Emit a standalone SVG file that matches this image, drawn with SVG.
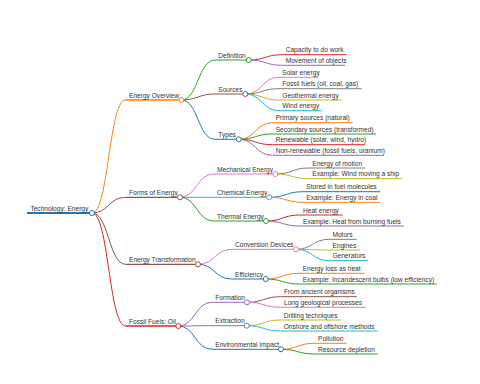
<svg xmlns="http://www.w3.org/2000/svg" width="480" height="384" viewBox="0 0 480 384">
<style>
text{font-family:"Liberation Sans",Arial,sans-serif;font-size:6.6px;fill:#333}
.l{fill:none;stroke-width:1}
.u{stroke-width:1;fill:none}
.c{fill:#fff;stroke-width:1}
.c0{stroke:#1f77b4}.c1{stroke:#ff7f0e}.c2{stroke:#2ca02c}.c3{stroke:#d62728}.c4{stroke:#9467bd}.c5{stroke:#8c564b}.c6{stroke:#e377c2}.c7{stroke:#7f7f7f}.c8{stroke:#bcbd22}.c9{stroke:#17becf}
</style>
<rect width="480" height="384" fill="#fff"/>
<g id="connectors">
<path class="l c1" d="M92 213C108.8 213 108.8 100 125.6 100"/>
<path class="l c5" d="M92 213C108.8 213 108.8 197.3 125.6 197.3"/>
<path class="l c5" d="M92 213C108.8 213 108.8 264.3 125.6 264.3"/>
<path class="l c3" d="M92 213C108.8 213 108.8 326 125.6 326"/>
<path class="l c2" d="M181.3 100C198.1 100 198.1 60 214.9 60"/>
<path class="l c5" d="M181.3 100C198.1 100 198.1 94 214.9 94"/>
<path class="l c0" d="M181.3 100C198.1 100 198.1 139.3 214.9 139.3"/>
<path class="l c6" d="M180 197.3C196.8 197.3 196.8 174 213.6 174"/>
<path class="l c9" d="M180 197.3C196.8 197.3 196.8 197.3 213.6 197.3"/>
<path class="l c2" d="M180 197.3C196.8 197.3 196.8 221 213.6 221"/>
<path class="l c6" d="M198 264.3C214.8 264.3 214.8 249.3 231.6 249.3"/>
<path class="l c0" d="M198 264.3C214.8 264.3 214.8 279 231.6 279"/>
<path class="l c4" d="M178.3 326C195.1 326 195.1 302.3 211.9 302.3"/>
<path class="l c7" d="M178.3 326C195.1 326 195.1 325.7 211.9 325.7"/>
<path class="l c0" d="M178.3 326C195.1 326 195.1 349.3 211.9 349.3"/>
<path class="l c3" d="M248.7 60C265.5 60 265.5 54.7 282.3 54.7"/>
<path class="l c4" d="M248.7 60C265.5 60 265.5 65.3 282.3 65.3"/>
<path class="l c6" d="M245.3 94C262.1 94 262.1 77.3 278.9 77.3"/>
<path class="l c7" d="M245.3 94C262.1 94 262.1 88.7 278.9 88.7"/>
<path class="l c8" d="M245.3 94C262.1 94 262.1 100 278.9 100"/>
<path class="l c9" d="M245.3 94C262.1 94 262.1 110.7 278.9 110.7"/>
<path class="l c1" d="M238.7 139.3C255.5 139.3 255.5 122.7 272.3 122.7"/>
<path class="l c2" d="M238.7 139.3C255.5 139.3 255.5 134 272.3 134"/>
<path class="l c3" d="M238.7 139.3C255.5 139.3 255.5 144.7 272.3 144.7"/>
<path class="l c4" d="M238.7 139.3C255.5 139.3 255.5 155.3 272.3 155.3"/>
<path class="l c7" d="M275.3 174C292.1 174 292.1 168 308.9 168"/>
<path class="l c8" d="M275.3 174C292.1 174 292.1 178.7 308.9 178.7"/>
<path class="l c0" d="M269.3 197.3C286.1 197.3 286.1 191.7 302.9 191.7"/>
<path class="l c1" d="M269.3 197.3C286.1 197.3 286.1 202.3 302.9 202.3"/>
<path class="l c3" d="M266 221C282.8 221 282.8 215 299.6 215"/>
<path class="l c4" d="M266 221C282.8 221 282.8 226 299.6 226"/>
<path class="l c7" d="M296 249.3C312.6 249.3 312.6 239.3 329 239.3"/>
<path class="l c8" d="M296 249.3C312.6 249.3 312.6 250 329 250"/>
<path class="l c9" d="M296 249.3C312.6 249.3 312.6 260.7 329 260.7"/>
<path class="l c1" d="M265.7 279C282.5 279 282.5 273.3 299.3 273.3"/>
<path class="l c2" d="M265.7 279C282.5 279 282.5 284 299.3 284"/>
<path class="l c5" d="M247 302.3C263.8 302.3 263.8 296.7 280.6 296.7"/>
<path class="l c6" d="M247 302.3C263.8 302.3 263.8 307.3 280.6 307.3"/>
<path class="l c8" d="M246.7 325.7C263.5 325.7 263.5 320 280.3 320"/>
<path class="l c9" d="M246.7 325.7C263.5 325.7 263.5 331 280.3 331"/>
<path class="l c1" d="M281 349.3C297.8 349.3 297.8 343.3 314.6 343.3"/>
<path class="l c2" d="M281 349.3C297.8 349.3 297.8 354 314.6 354"/>
</g>
<g id="n-root"><line class="u c0" style="stroke-width:2" x1="27" y1="213" x2="92" y2="213"/><text x="30.4" y="210.5">Technology: Energy</text><circle class="c c0" cx="92" cy="213" r="2.5"/></g>
<g id="n-overview"><line class="u c1" style="stroke-width:1.3" x1="125.6" y1="100" x2="181.3" y2="100"/><text x="129" y="97.5">Energy Overview</text><circle class="c c1" cx="181.3" cy="100" r="2.5"/></g>
<g id="n-forms"><line class="u c5" style="stroke-width:1.3" x1="125.6" y1="197.3" x2="180" y2="197.3"/><text x="129" y="194.8">Forms of Energy</text><circle class="c c5" cx="180" cy="197.3" r="2.5"/></g>
<g id="n-transformation"><line class="u c5" style="stroke-width:1.3" x1="125.6" y1="264.3" x2="198" y2="264.3"/><text x="129" y="261.8">Energy Transformation</text><circle class="c c5" cx="198" cy="264.3" r="2.5"/></g>
<g id="n-fossil"><line class="u c3" style="stroke-width:1.3" x1="125.6" y1="326" x2="178.3" y2="326"/><text x="129" y="323.5">Fossil Fuels: Oil</text><circle class="c c3" cx="178.3" cy="326" r="2.5"/></g>
<g id="n-definition"><line class="u c2" x1="214.9" y1="60" x2="248.7" y2="60"/><text x="218.3" y="57.5">Definition</text><circle class="c c2" cx="248.7" cy="60" r="2.5"/></g>
<g id="n-sources"><line class="u c5" x1="214.9" y1="94" x2="245.3" y2="94"/><text x="218.3" y="91.5">Sources</text><circle class="c c5" cx="245.3" cy="94" r="2.5"/></g>
<g id="n-types"><line class="u c0" x1="214.9" y1="139.3" x2="238.7" y2="139.3"/><text x="218.3" y="136.8">Types</text><circle class="c c0" cx="238.7" cy="139.3" r="2.5"/></g>
<g id="n-mechanical"><line class="u c6" x1="213.6" y1="174" x2="275.3" y2="174"/><text x="217" y="171.5">Mechanical Energy</text><circle class="c c6" cx="275.3" cy="174" r="2.5"/></g>
<g id="n-chemical"><line class="u c9" x1="213.6" y1="197.3" x2="269.3" y2="197.3"/><text x="217" y="194.8">Chemical Energy</text><circle class="c c9" cx="269.3" cy="197.3" r="2.5"/></g>
<g id="n-thermal"><line class="u c2" x1="213.6" y1="221" x2="266" y2="221"/><text x="217" y="218.5">Thermal Energy</text><circle class="c c2" cx="266" cy="221" r="2.5"/></g>
<g id="n-conversion"><line class="u c6" x1="231.6" y1="249.3" x2="296" y2="249.3"/><text x="235" y="246.8">Conversion Devices</text><circle class="c c6" cx="296" cy="249.3" r="2.5"/></g>
<g id="n-efficiency"><line class="u c0" x1="231.6" y1="279" x2="265.7" y2="279"/><text x="235" y="276.5">Efficiency</text><circle class="c c0" cx="265.7" cy="279" r="2.5"/></g>
<g id="n-formation"><line class="u c4" x1="211.9" y1="302.3" x2="247" y2="302.3"/><text x="215.3" y="299.8">Formation</text><circle class="c c4" cx="247" cy="302.3" r="2.5"/></g>
<g id="n-extraction"><line class="u c7" x1="211.9" y1="325.7" x2="246.7" y2="325.7"/><text x="215.3" y="323.2">Extraction</text><circle class="c c7" cx="246.7" cy="325.7" r="2.5"/></g>
<g id="n-impact"><line class="u c0" x1="211.9" y1="349.3" x2="281" y2="349.3"/><text x="215.3" y="346.8">Environmental Impact</text><circle class="c c0" cx="281" cy="349.3" r="2.5"/></g>
<g id="n-capacity"><line class="u c3" x1="282.3" y1="54.7" x2="346.7" y2="54.7"/><text x="285.7" y="52.2">Capacity to do work</text></g>
<g id="n-movement"><line class="u c4" x1="282.3" y1="65.3" x2="345" y2="65.3"/><text x="285.7" y="62.8">Movement of objects</text></g>
<g id="n-solar"><line class="u c6" x1="278.9" y1="77.3" x2="318" y2="77.3"/><text x="282.3" y="74.8">Solar energy</text></g>
<g id="n-fossilfuels"><line class="u c7" x1="278.9" y1="88.7" x2="361.7" y2="88.7"/><text x="282.3" y="86.2">Fossil fuels (oil, coal, gas)</text></g>
<g id="n-geothermal"><line class="u c8" x1="278.9" y1="100" x2="341.7" y2="100"/><text x="282.3" y="97.5">Geothermal energy</text></g>
<g id="n-wind"><line class="u c9" x1="278.9" y1="110.7" x2="321.7" y2="110.7"/><text x="282.3" y="108.2">Wind energy</text></g>
<g id="n-primary"><line class="u c1" x1="272.3" y1="122.7" x2="352.7" y2="122.7"/><text x="275.7" y="120.2">Primary sources (natural)</text></g>
<g id="n-secondary"><line class="u c2" x1="272.3" y1="134" x2="376" y2="134"/><text x="275.7" y="131.5">Secondary sources (transformed)</text></g>
<g id="n-renewable"><line class="u c3" x1="272.3" y1="144.7" x2="365" y2="144.7"/><text x="275.7" y="142.2">Renewable (solar, wind, hydro)</text></g>
<g id="n-nonrenewable"><line class="u c4" x1="272.3" y1="155.3" x2="384" y2="155.3"/><text x="275.7" y="152.8">Non-renewable (fossil fuels, uranium)</text></g>
<g id="n-motion"><line class="u c7" x1="308.9" y1="168" x2="365" y2="168"/><text x="312.3" y="165.5">Energy of motion</text></g>
<g id="n-ship"><line class="u c8" x1="308.9" y1="178.7" x2="402" y2="178.7"/><text x="312.3" y="176.2">Example: Wind moving a ship</text></g>
<g id="n-stored"><line class="u c0" x1="302.9" y1="191.7" x2="380" y2="191.7"/><text x="306.3" y="189.2">Stored in fuel molecules</text></g>
<g id="n-coal"><line class="u c1" x1="302.9" y1="202.3" x2="380" y2="202.3"/><text x="306.3" y="199.8">Example: Energy in coal</text></g>
<g id="n-heat"><line class="u c3" x1="299.6" y1="215" x2="342.7" y2="215"/><text x="303" y="212.5">Heat energy</text></g>
<g id="n-burning"><line class="u c4" x1="299.6" y1="226" x2="404" y2="226"/><text x="303" y="223.5">Example: Heat from burning fuels</text></g>
<g id="n-motors"><line class="u c7" x1="329" y1="239.3" x2="356.7" y2="239.3"/><text x="332.4" y="236.8">Motors</text></g>
<g id="n-engines"><line class="u c8" x1="329" y1="250" x2="360" y2="250"/><text x="332.4" y="247.5">Engines</text></g>
<g id="n-generators"><line class="u c9" x1="329" y1="260.7" x2="368.3" y2="260.7"/><text x="332.4" y="258.2">Generators</text></g>
<g id="n-loss"><line class="u c1" x1="299.3" y1="273.3" x2="364.3" y2="273.3"/><text x="302.7" y="270.8">Energy loss as heat</text></g>
<g id="n-bulbs"><line class="u c2" x1="299.3" y1="284" x2="436.7" y2="284"/><text x="302.7" y="281.5">Example: Incandescent bulbs (low efficiency)</text></g>
<g id="n-ancient"><line class="u c5" x1="280.6" y1="296.7" x2="356.7" y2="296.7"/><text x="284" y="294.2">From ancient organisms</text></g>
<g id="n-geological"><line class="u c6" x1="280.6" y1="307.3" x2="365.7" y2="307.3"/><text x="284" y="304.8">Long geological processes</text></g>
<g id="n-drilling"><line class="u c8" x1="280.3" y1="320" x2="341.7" y2="320"/><text x="283.7" y="317.5">Drilling techniques</text></g>
<g id="n-onshore"><line class="u c9" x1="280.3" y1="331" x2="377.7" y2="331"/><text x="283.7" y="328.5">Onshore and offshore methods</text></g>
<g id="n-pollution"><line class="u c1" x1="314.6" y1="343.3" x2="346.7" y2="343.3"/><text x="318" y="340.8">Pollution</text></g>
<g id="n-depletion"><line class="u c2" x1="314.6" y1="354" x2="377.7" y2="354"/><text x="318" y="351.5">Resource depletion</text></g>
</svg>
